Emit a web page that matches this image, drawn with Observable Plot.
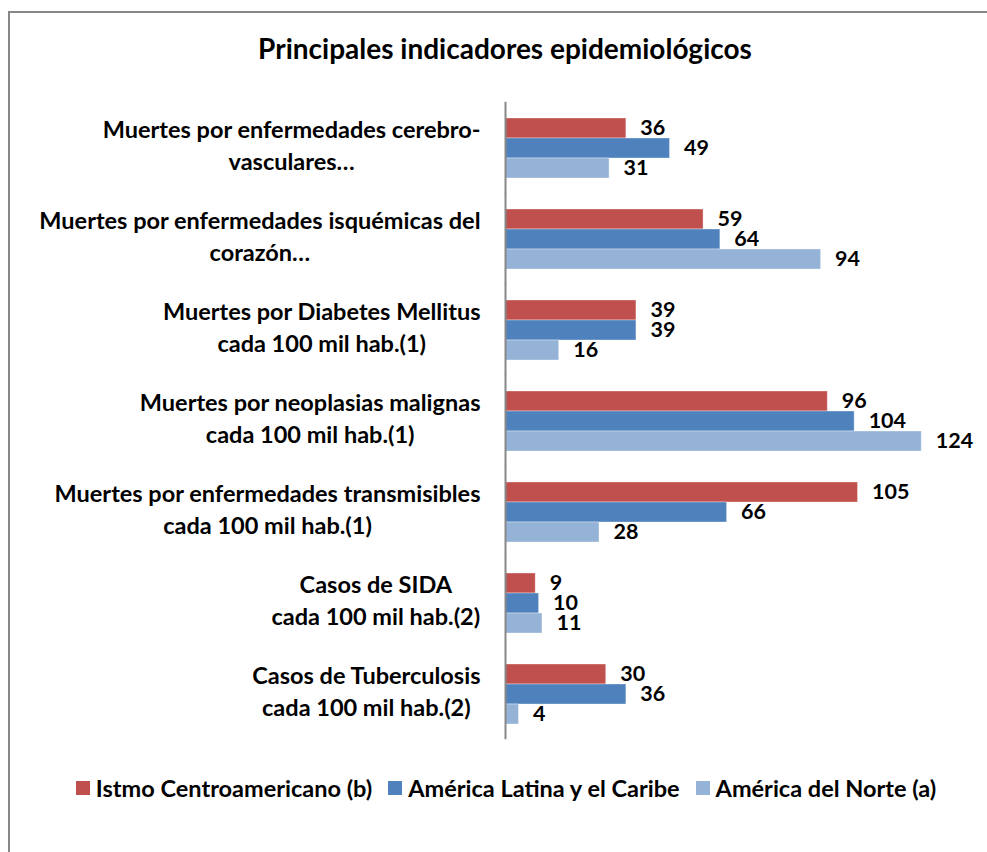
<!DOCTYPE html>
<html>
<head>
<meta charset="utf-8">
<script src="https://cdn.jsdelivr.net/npm/d3@7"></script>
<script src="https://cdn.jsdelivr.net/npm/@observablehq/plot@0.6"></script>
<style>
  html, body { margin: 0; padding: 0; background: #fff; overflow: hidden; }
  body { width: 987px; height: 852px; position: relative; font-family: Lato, "Open Sans", sans-serif; font-weight: bold; }
  #frame { position: absolute; left: 8px; top: 11px; width: 1000px; height: 900px; border: 2px solid #878787; box-sizing: border-box; }
  #title { position: absolute; left: 0; top: 31px; width: 1010px; text-align: center; font-size: 28px; color: #000; }
  #chart { position: absolute; left: 0; top: 0; }
  #legend { position: absolute; left: 0; top: 774px; width: 1012px; display: flex; justify-content: center; align-items: center; gap: 16px; font-size: 23.5px; color: #000; }
  .item { display: flex; align-items: center; }
  .sw { width: 14px; height: 14px; margin-right: 6px; }
</style>
</head>
<body>
<div id="frame"></div>
<div id="title">Principales indicadores epidemiológicos</div>
<div id="chart"></div>
<div id="legend"></div>
<script>
const categories = [
  "Muertes por enfermedades cerebro-\nvasculares…",
  "Muertes por enfermedades isquémicas del\ncorazón…",
  "Muertes por Diabetes Mellitus\ncada 100 mil hab.(1)",
  "Muertes por neoplasias malignas\ncada 100 mil hab.(1)",
  "Muertes por enfermedades transmisibles\ncada 100 mil hab.(1)",
  "Casos de SIDA\ncada 100 mil hab.(2)",
  "Casos de Tuberculosis\ncada 100 mil hab.(2)"
];
const seriesNames = ["Istmo Centroamericano (b)", "América Latina y el Caribe", "América del Norte (a)"];
const istmo  = [36, 59, 39, 96, 105, 9, 30];
const latina = [49, 64, 39, 104, 66, 10, 36];
const norte  = [31, 94, 16, 124, 28, 11, 4];
const colors = ["#C0504D", "#4F81BD", "#95B3D7"];

const seriesValues = [istmo, latina, norte];
const data = categories.flatMap((c, i) =>
  seriesNames.map((s, j) => ({cat: c, series: s, value: seriesValues[j][i]}))
);

const chart = Plot.plot({
  width: 987,
  height: 852,
  marginLeft: 505,
  marginRight: 12,
  marginTop: 99,
  marginBottom: 111,
  style: {fontFamily: "Lato, 'Open Sans', sans-serif", fontWeight: "bold", fontSize: "20px", color: "#000", background: "transparent"},
  x: {domain: [0, 140], axis: null},
  y: {domain: seriesNames, axis: null, padding: 0},
  fy: {domain: categories, paddingInner: 0.33, paddingOuter: 0.165, axis: null},
  color: {domain: seriesNames, range: colors},
  marks: [
    Plot.axisFy({anchor: "left", tickSize: 0, tickPadding: 25, label: null, fontSize: 23.5, lineHeight: 1.36, dy: -4, fill: "#000"}),
    Plot.barX(data, {fy: "cat", y: "series", x: "value", fill: "series", stroke: "white", strokeOpacity: 0.35, strokeWidth: 1}),
    Plot.text(data, {fy: "cat", y: "series", x: "value", text: d => String(d.value), textAnchor: "start", dx: 14, fontSize: 21.5, fontWeight: "bold", fill: "#000"}),
    Plot.ruleX([0], {stroke: "#878787", strokeWidth: 2, insetTop: -15.2, insetBottom: -15.2})
  ]
});
document.getElementById("chart").appendChild(chart);

// center each multi-line category label within its own block (right edge kept)
chart.querySelectorAll('g[aria-label="fy-axis tick label"] text').forEach(t => {
  const w = t.getBBox().width;
  t.setAttribute("text-anchor", "middle");
  const tr = t.getAttribute("transform") || "";
  t.setAttribute("transform", tr + ` translate(${-w / 2},0)`);
});

const legend = document.getElementById("legend");
seriesNames.forEach((s, j) => {
  const it = document.createElement("div");
  it.className = "item";
  const sw = document.createElement("div");
  sw.className = "sw";
  sw.style.background = colors[j];
  const tx = document.createElement("span");
  tx.textContent = s;
  it.appendChild(sw); it.appendChild(tx);
  legend.appendChild(it);
});
</script>
</body>
</html>
